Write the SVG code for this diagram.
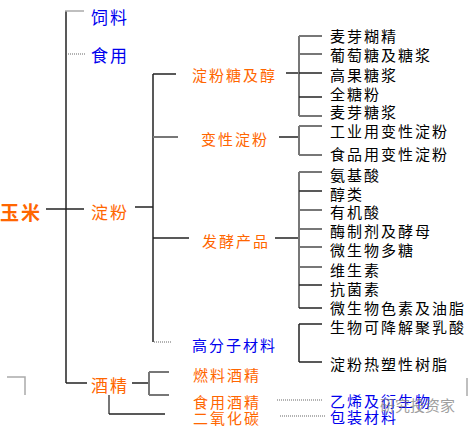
<svg xmlns="http://www.w3.org/2000/svg" width="469" height="428" viewBox="0 0 469 428">
<style>
text{font-family:"Noto Sans CJK SC","Noto Sans",sans-serif;dominant-baseline:central}
.o1{fill:#ff6600;font-size:17px;letter-spacing:2px}
.b1{fill:#0000ee;font-size:17px;letter-spacing:2px}
.o2{fill:#ff6600;font-size:15px;letter-spacing:2px}
.b2{fill:#0000ee;font-size:15px;letter-spacing:2px}
.k3{fill:#000;font-size:15px;letter-spacing:2px}
.root{fill:#ff6600;font-size:19px;font-weight:bold;letter-spacing:2px}
.wm{fill:#777;font-size:15px;opacity:0.7}
.ln{stroke:#222;stroke-width:1.5;fill:none}
.gl{stroke:#777;stroke-width:2;fill:none}
.dt{stroke:#999;stroke-width:1.5;stroke-dasharray:1 1;fill:none}
.lt{stroke:#aaa;stroke-width:1.5;fill:none}
</style>
<rect width="469" height="428" fill="#fff"/>
<g id="connectors">
  <!-- main trunk -->
  <line class="ln" x1="66" y1="11" x2="66" y2="383"/>
  <line class="lt" x1="65" y1="11" x2="84" y2="11"/>
  <line class="dt" x1="68" y1="54" x2="85" y2="54"/>
  <line class="ln" x1="46" y1="209" x2="84" y2="209"/>
  <line class="ln" x1="66" y1="383" x2="87" y2="383"/>
  <!-- starch branch -->
  <line class="ln" x1="135" y1="207" x2="153" y2="207"/>
  <line class="ln" x1="153" y1="74" x2="153" y2="342"/>
  <line class="ln" x1="153" y1="74" x2="176" y2="74"/>
  <line class="gl" x1="153" y1="137" x2="178" y2="137"/>
  <line class="ln" x1="153" y1="238" x2="189" y2="238"/>
  <line class="dt" x1="154" y1="342" x2="172" y2="342"/>
  <!-- sugar group -->
  <line class="ln" x1="286" y1="73" x2="300" y2="73"/>
  <line class="gl" x1="299" y1="36" x2="299" y2="116"/>
  <line class="gl" x1="299" y1="36" x2="322" y2="36"/>
  <line class="gl" x1="299" y1="54" x2="322" y2="54"/>
  <line class="ln" x1="299" y1="73" x2="322" y2="73"/>
  <line class="ln" x1="299" y1="97" x2="322" y2="97"/>
  <line class="gl" x1="299" y1="116" x2="322" y2="116"/>
  <!-- modified starch group -->
  <line class="ln" x1="279" y1="137" x2="299" y2="137"/>
  <line class="gl" x1="299" y1="126" x2="299" y2="155"/>
  <line class="gl" x1="299" y1="126" x2="322" y2="126"/>
  <line class="gl" x1="299" y1="155" x2="322" y2="155"/>
  <!-- fermentation group -->
  <line class="ln" x1="275" y1="238" x2="299" y2="238"/>
  <line class="gl" x1="299" y1="172" x2="299" y2="308"/>
  <line class="gl" x1="299" y1="172" x2="322" y2="172"/>
  <line class="ln" x1="299" y1="191" x2="322" y2="191"/>
  <line class="gl" x1="299" y1="210" x2="322" y2="210"/>
  <line class="gl" x1="299" y1="229" x2="322" y2="229"/>
  <line class="gl" x1="299" y1="247" x2="322" y2="247"/>
  <line class="gl" x1="299" y1="267" x2="322" y2="267"/>
  <line class="ln" x1="299" y1="285" x2="322" y2="285"/>
  <line class="ln" x1="299" y1="308" x2="322" y2="308"/>
  <!-- polymer group -->
  <line class="ln" x1="299" y1="324" x2="299" y2="362"/>
  <line class="ln" x1="299" y1="324" x2="322" y2="324"/>
  <line class="ln" x1="299" y1="362" x2="322" y2="362"/>
  <!-- alcohol group -->
  <line class="ln" x1="132" y1="383" x2="149" y2="383"/>
  <line class="gl" x1="149" y1="372" x2="149" y2="395"/>
  <line class="gl" x1="149" y1="372" x2="169" y2="372"/>
  <line class="gl" x1="149" y1="395" x2="169" y2="395"/>
  <line class="gl" x1="109" y1="395" x2="109" y2="414"/>
  <line class="ln" x1="109" y1="414" x2="165" y2="414"/>
  <line class="dt" x1="277" y1="400" x2="323" y2="400"/>
  <line class="dt" x1="280" y1="416" x2="325" y2="416"/>
  <!-- stray marks -->
  <polyline class="lt" points="7,377 25,377 25,395"/>
  <line class="lt" x1="467" y1="378" x2="467" y2="396"/>
</g>
<g id="n-corn"><text class="root" x="0" y="211">玉米</text></g>
<g id="n-feed"><text class="b1" x="91" y="16">饲料</text></g>
<g id="n-food"><text class="b1" x="91" y="54">食用</text></g>
<g id="n-starch"><text class="o1" x="91" y="211">淀粉</text></g>
<g id="n-alcohol"><text class="o1" x="91" y="384">酒精</text></g>
<g id="n-sugar"><text class="o2" x="192" y="74">淀粉糖及醇</text></g>
<g id="n-modstarch"><text class="o2" x="201" y="138">变性淀粉</text></g>
<g id="n-ferm"><text class="o2" x="202" y="240">发酵产品</text></g>
<g id="n-polymer"><text class="b2" x="192" y="344">高分子材料</text></g>
<g id="n-fuel"><text class="o2" x="193" y="374">燃料酒精</text></g>
<g id="n-foodalc"><text class="o2" x="193" y="401">食用酒精</text></g>
<g id="n-co2"><text class="o2" x="193" y="417">二氧化碳</text></g>
<g id="n-s1"><text class="k3" x="330" y="35">麦芽糊精</text></g>
<g id="n-s2"><text class="k3" x="330" y="54">葡萄糖及糖浆</text></g>
<g id="n-s3"><text class="k3" x="330" y="74">高果糖浆</text></g>
<g id="n-s4"><text class="k3" x="330" y="93">全糖粉</text></g>
<g id="n-s5"><text class="k3" x="330" y="111">麦芽糖浆</text></g>
<g id="n-m1"><text class="k3" x="330" y="130">工业用变性淀粉</text></g>
<g id="n-m2"><text class="k3" x="330" y="153">食品用变性淀粉</text></g>
<g id="n-f1"><text class="k3" x="330" y="174">氨基酸</text></g>
<g id="n-f2"><text class="k3" x="330" y="193">醇类</text></g>
<g id="n-f3"><text class="k3" x="330" y="211">有机酸</text></g>
<g id="n-f4"><text class="k3" x="330" y="230">酶制剂及酵母</text></g>
<g id="n-f5"><text class="k3" x="330" y="249">微生物多糖</text></g>
<g id="n-f6"><text class="k3" x="330" y="269">维生素</text></g>
<g id="n-f7"><text class="k3" x="330" y="288">抗菌素</text></g>
<g id="n-f8"><text class="k3" x="330" y="307">微生物色素及油脂</text></g>
<g id="n-p1"><text class="k3" x="330" y="326">生物可降解聚乳酸</text></g>
<g id="n-p2"><text class="k3" x="330" y="363">淀粉热塑性树脂</text></g>
<g id="n-ethylene"><text class="b2" x="330" y="400">乙烯及衍生物</text></g>
<g id="n-pack"><text class="b2" x="330" y="416">包装材料</text></g>
<g id="watermark"><text class="wm" x="380" y="404">研究投资家</text></g>
</svg>
